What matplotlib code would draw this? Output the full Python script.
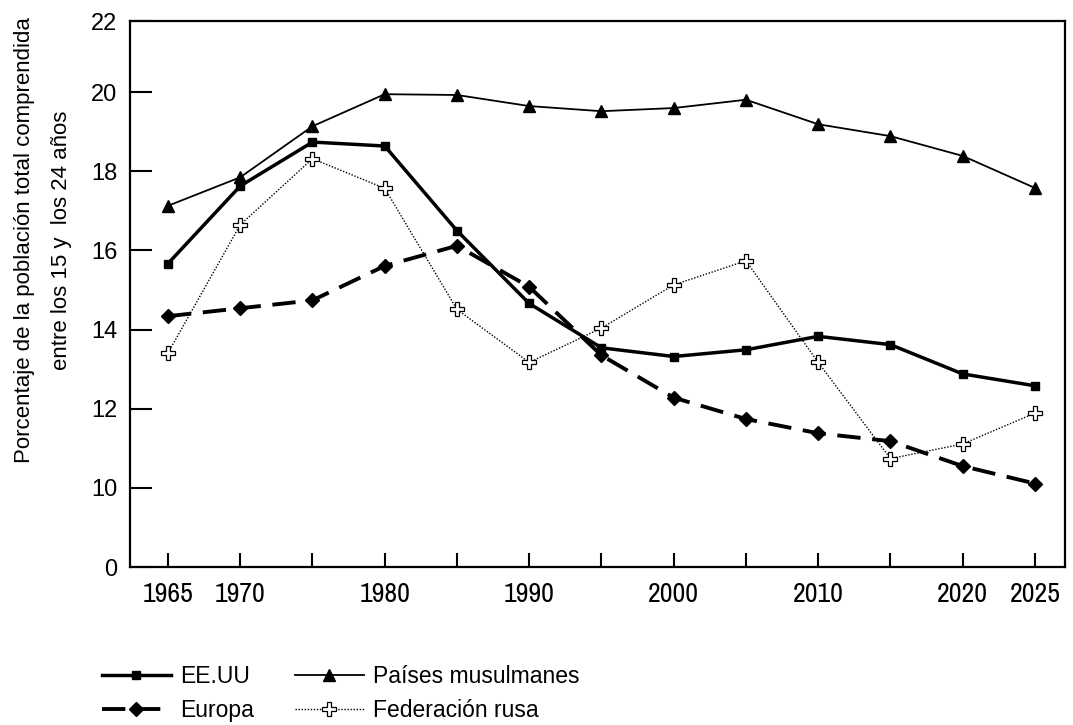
import matplotlib
matplotlib.use("Agg")
import matplotlib.pyplot as plt

# Datos
anios = [1965, 1970, 1975, 1980, 1985, 1990, 1995, 2000, 2005, 2010, 2015, 2020, 2025]
ee_uu = [15.67, 17.63, 18.74, 18.64, 16.5, 14.66, 13.54, 13.32, 13.49, 13.83, 13.62, 12.88, 12.58]
musulmanes = [17.13, 17.85, 19.14, 19.95, 19.93, 19.65, 19.52, 19.6, 19.81, 19.19, 18.89, 18.39, 17.58]
europa = [14.34, 14.54, 14.74, 15.61, 16.12, 15.08, 13.35, 12.28, 11.74, 11.38, 11.18, 10.55, 10.11]
rusia = [13.41, 16.65, 18.32, 17.57, 14.51, 13.17, 14.04, 15.13, 15.74, 13.17, 10.74, 11.11, 11.89]

x_ticks = [1965, 1970, 1975, 1980, 1985, 1990, 1995, 2000, 2005, 2010, 2015, 2020, 2025]
x_labels = ['1965', '1970', '', '1980', '', '1990', '', '2000', '', '2010', '', '2020', '2025']
# eje cortado: la marca inferior se rotula como 0
y_ticks = [8, 10, 12, 14, 16, 18, 20, 21.8]
y_labels = ['0', '10', '12', '14', '16', '18', '20', '22']

plt.rcParams['font.family'] = ['Liberation Sans', 'DejaVu Sans']

fig = plt.figure(figsize=(10.73, 7.25), dpi=100)
ax = fig.add_axes([130 / 1073, 158 / 725, 935 / 1073, 546 / 725])

ax.plot(anios, ee_uu, color='black', lw=2.5, marker='s', ms=6, label='EE.UU', zorder=4)
ax.plot(anios, europa, color='black', lw=2.8, ls=(0, (6, 3)), marker='D', ms=7, label='Europa', zorder=3)
ax.plot(anios, musulmanes, color='black', lw=1.3, marker='^', ms=8, label='Países musulmanes', zorder=4)
ax.plot(anios, rusia, color='black', lw=1.0, ls=(0, (1, 1.2)), marker='P', ms=10,
        mfc='white', mec='black', mew=0.9, label='Federación rusa', zorder=2)

ax.set_xlim(1962.37, 2027.08)
ax.set_ylim(8, 21.8)

ax.set_xticks(x_ticks)
ax.set_xticklabels(x_labels, family=['Archivo Narrow', 'Liberation Sans'], fontsize=20)
ax.set_yticks(y_ticks)
ax.set_yticklabels(y_labels, fontsize=17)

ax.tick_params(axis='x', direction='in', length=10, width=1.5, pad=11)
ax.tick_params(axis='y', direction='in', length=16, width=1.5, pad=9)
for s in ax.spines.values():
    s.set_linewidth(1.6)

fig.text(43 / 1073, 1 - 240 / 725,
         'Porcentaje de la población total comprendida\nentre los 15 y  los 24 años',
         rotation=90, ha='center', va='center', fontsize=16, linespacing=2.05)

fig.legend(loc='upper left', bbox_to_anchor=(102 / 1073, 1 - 665 / 725), ncol=2,
           frameon=False, fontsize=16.5, handlelength=3.0, handletextpad=0.4,
           columnspacing=1.8, labelspacing=0.5, borderpad=0, borderaxespad=0)

fig.savefig('out.png', dpi=100)
